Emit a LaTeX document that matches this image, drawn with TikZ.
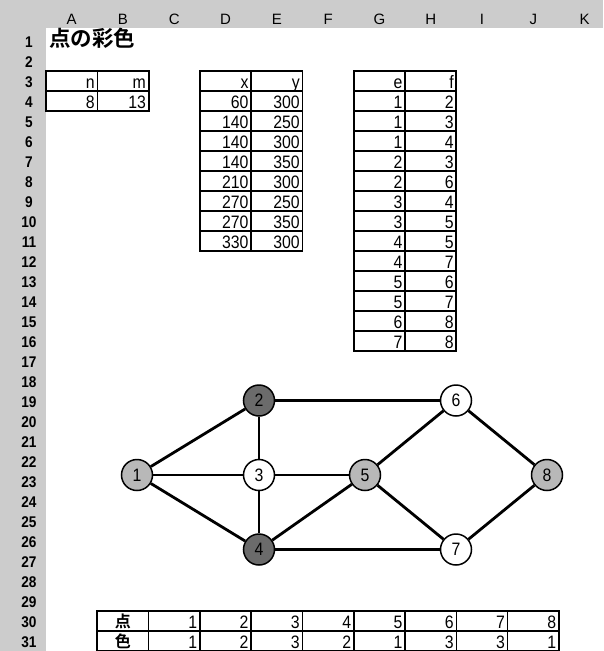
\documentclass[tikz,border=0pt]{standalone}
\usepackage{fontspec}
\setmainfont{Liberation Sans}[FakeStretch=0.88]
\newfontfamily\hdrfont{Liberation Sans}
\newfontfamily\cjkb{Noto Sans CJK JP Bold}
\definecolor{hdrgray}{gray}{0.80}
\definecolor{lightnode}{gray}{0.72}
\definecolor{darknode}{gray}{0.42}
\tikzset{
  tline/.style={line width=1.5pt},
  touter/.style={line width=1.9pt},
  num/.style={anchor=base east, inner sep=0pt, font=\fontsize{18}{18}\selectfont},
  cjkcell/.style={anchor=base, inner sep=0pt, font=\cjkb\fontsize{16}{16}\selectfont},
  rownum/.style={anchor=base, inner sep=0pt, font=\fontsize{15.5}{16}\bfseries\selectfont},
  colhdr/.style={anchor=base, inner sep=0pt, font=\hdrfont\fontsize{15}{15}\selectfont},
  vtx/.style={circle, draw, line width=1.5pt, minimum size=31pt, inner sep=0pt, font=\fontsize{18}{18}\selectfont},
  gedge/.style={line width=2.8pt},
}
\newcommand{\tgrid}[4]{%
  \pgfmathtruncatemacro{\ca}{#2+1}\pgfmathtruncatemacro{\ra}{#4+1}%
  \foreach \c in {#1,...,\ca} \draw[tline] ({46+51.3*\c},{11+20*#3}) -- ({46+51.3*\c},{11+20*\ra});
  \foreach \r in {#3,...,\ra} \draw[tline] ({46+51.3*#1},{11+20*\r}) -- ({46+51.3*\ca},{11+20*\r});
  \draw[touter] ({46+51.3*#1},{11+20*#3}) rectangle ({46+51.3*\ca},{11+20*\ra});
}
\newcommand{\cell}[4]{\node[num] (#1) at ({46+51.3*(#2+1)-2.5},{31+20*#3-2.5}) {#4};}
\begin{document}
\begin{tikzpicture}[x=1pt,y=-1pt]
\useasboundingbox (0,0) rectangle (603,651);
% sheet headers
\fill[hdrgray] (0,0) rectangle (603,28);
\fill[hdrgray] (0,0) rectangle (46,651);
\foreach \L [count=\i from 0] in {A,B,C,D,E,F,G,H,I,J,K}
  \node[colhdr] (col-\L) at ({46+51.3*(\i+0.5)},24) {\L};
\foreach \r in {1,...,31}
  \node[rownum] (row-\r) at (29,{27+20*\r}) {\r};
% title
\node[anchor=base west, inner sep=0pt, text height=15pt, text depth=1pt, font=\cjkb\fontsize{21.5}{21.5}\selectfont] (title) at (49,46) {点の彩色};
% n m table
\tgrid{0}{1}{3}{4}
\cell{nm-n}{0}{3}{n}\cell{nm-m}{1}{3}{m}
\cell{nm-8}{0}{4}{8}\cell{nm-13}{1}{4}{13}
% x y table
\tgrid{3}{4}{3}{11}
\cell{xy-x}{3}{3}{x}\cell{xy-y}{4}{3}{y}
\foreach \a/\b [count=\k from 4] in {60/300,140/250,140/300,140/350,210/300,270/250,270/350,330/300}
  {\cell{xy-\k-d}{3}{\k}{\a}\cell{xy-\k-e}{4}{\k}{\b}}
% e f table
\tgrid{6}{7}{3}{16}
\cell{ef-e}{6}{3}{e}\cell{ef-f}{7}{3}{f}
\foreach \a/\b [count=\k from 4] in {1/2,1/3,1/4,2/3,2/6,3/4,3/5,4/5,4/7,5/6,5/7,6/8,7/8}
  {\cell{ef-\k-g}{6}{\k}{\a}\cell{ef-\k-h}{7}{\k}{\b}}
% result table
\tgrid{1}{9}{30}{31}
\node[cjkcell] (pt) at ({46+51.3*1.5},{31+20*30-3.5}) {点};
\node[cjkcell] (iro) at ({46+51.3*1.5},{31+20*31-3.5}) {色};
\foreach \a/\b [count=\k from 2] in {1/1,2/2,3/3,4/2,5/1,6/3,7/3,8/1}
  {\cell{res-\k-p}{\k}{30}{\a}\cell{res-\k-c}{\k}{31}{\b}}
% graph
\node[vtx, fill=lightnode] (v1) at (137,475) {1};
\node[vtx, fill=darknode]  (v2) at (259,400.5) {2};
\node[vtx, fill=white]     (v3) at (259,475) {3};
\node[vtx, fill=darknode]  (v4) at (259,549.5) {4};
\node[vtx, fill=lightnode] (v5) at (365,475) {5};
\node[vtx, fill=white]     (v6) at (456,400.5) {6};
\node[vtx, fill=white]     (v7) at (456,549.5) {7};
\node[vtx, fill=lightnode] (v8) at (547,475) {8};
\foreach \p/\q in {1/2,1/3,1/4,2/3,2/6,3/4,3/5,4/5,4/7,5/6,5/7,6/8,7/8}
  \draw[gedge] (v\p) -- (v\q);
\end{tikzpicture}
\end{document}
